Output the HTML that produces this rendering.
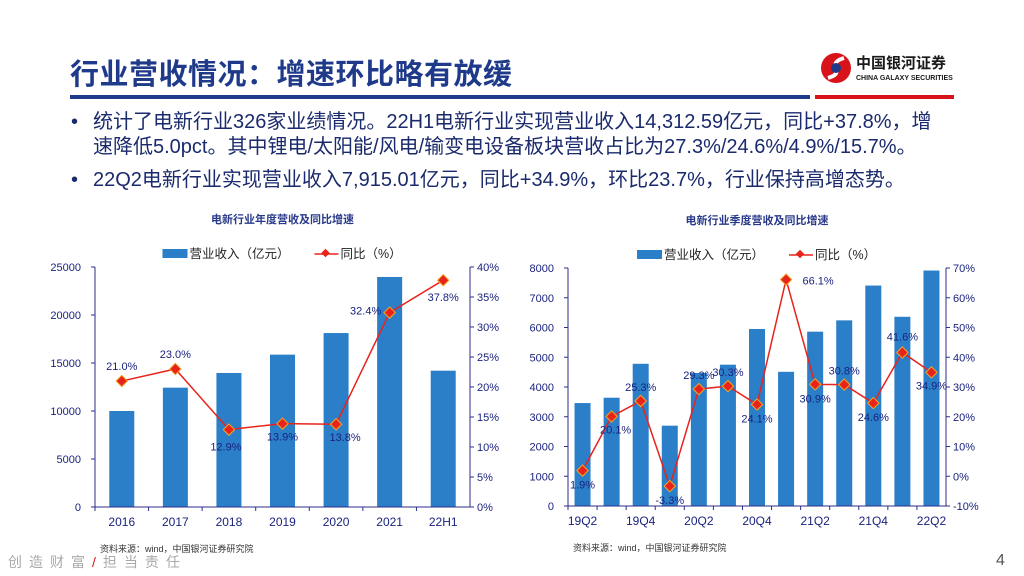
<!DOCTYPE html>
<html><head><meta charset="utf-8">
<style>
body{margin:0;width:1024px;height:576px;background:#fff;overflow:hidden;font-family:"Liberation Sans","Noto Sans CJK SC",sans-serif;position:relative}
.t{position:absolute;margin:0}
</style></head><body>
<div class="t" style="left:70px;top:51px;font-size:29px;font-weight:bold;color:#1f3a8a;letter-spacing:0.5px">行业营收情况：增速环比略有放缓</div>
<div class="t" style="left:818px;top:48px;width:140px;height:40px">
<svg width="140" height="40"><circle cx="18" cy="20" r="15" fill="#d7141a"/><path d="M10 30 C 30 24, 6 16, 26 10" stroke="#fff" stroke-width="4" fill="none"/><circle cx="18" cy="20" r="5" fill="#1f3a8a"/>
<text x="38" y="20" font-size="15" font-weight="bold" fill="#1a1a1a">中国银河证券</text>
<text x="38" y="32" font-size="7" font-weight="bold" fill="#1a1a1a">CHINA GALAXY SECURITIES</text></svg></div>
<div class="t" style="left:70px;top:95px;width:740px;height:4px;background:#1f3a8a"></div>
<div class="t" style="left:815px;top:95px;width:139px;height:4px;background:#d7141a"></div>
<div class="t" style="left:93px;top:110px;width:845px;font-size:20px;line-height:25px;color:#1a2a6c">
<span style="position:absolute;left:-22px">•</span>统计了电新行业326家业绩情况。22H1电新行业实现营业收入14,312.59亿元，同比+37.8%，增速降低5.0pct。其中锂电/太阳能/风电/输变电设备板块营收占比为27.3%/24.6%/4.9%/15.7%。</div>
<div class="t" style="left:93px;top:168px;width:880px;font-size:20px;line-height:25px;color:#1a2a6c">
<span style="position:absolute;left:-22px">•</span>22Q2电新行业实现营业收入7,915.01亿元，同比+34.9%，环比23.7%，行业保持高增态势。</div>
<svg id="c" width="1024" height="576" style="position:absolute;left:0;top:0"></svg>
<div class="t" style="left:8px;top:552px;font-size:14px;color:#aaa;letter-spacing:7px">创造财富<span style="color:#d7141a">/</span>担当责任</div>
<div class="t" style="left:996px;top:552px;font-size:16px;color:#555">4</div>
<script>
const yearCats=['2016','2017','2018','2019','2020','2021','22H1'];
const yearRev=[10000,12430,13960,15870,18120,23960,14200];
const yearYoy=[21.0,23.0,12.9,13.9,13.8,32.4,37.8];
const yearRevTicks=[0,5000,10000,15000,20000,25000];
const yearYoyTicks=[0,5,10,15,20,25,30,35,40];
const qCats=['19Q2','19Q3','19Q4','20Q1','20Q2','20Q3','20Q4','21Q1','21Q2','21Q3','21Q4','22Q1','22Q2'];
const qRev=[3460,3640,4780,2700,4470,4750,5950,4510,5860,6240,7410,6360,7915];
const qYoy=[1.9,20.1,25.3,-3.3,29.3,30.3,24.1,66.1,30.9,30.8,24.6,41.6,34.9];
const qRevTicks=[0,1000,2000,3000,4000,5000,6000,7000,8000];
const qYoyTicks=[-10,0,10,20,30,40,50,60,70];
const svg=document.getElementById('c');const NS='http://www.w3.org/2000/svg';
function mk(tag,a,txt){const e=document.createElementNS(NS,tag);for(const k in a)e.setAttribute(k,a[k]);if(txt!==undefined)e.textContent=txt;svg.appendChild(e);return e;}
const AX='#2e2e8a',TX='#1a237e';
function chart(o){
 const {x0,x1,y0,y1,cats,rev,yoy,rt,pt,rmax,pmin,pmax,bw,labelEvery,lblOff,title,name}=o;
 const cw=(x1-x0)/cats.length;
 const ys=v=>y1-(v/rmax)*(y1-y0);
 const yp=v=>y1-(v-pmin)/(pmax-pmin)*(y1-y0);
 const cx=i=>x0+cw*(i+0.5);
 let e=mk('text',{x:(x0+x1)/2,y:y0-44,'font-size':11,'font-weight':'bold','text-anchor':'middle',fill:'#2a3a8a'},title);
 
 const lx=(x0+x1)/2-120;
 e=mk('rect',{x:lx,y:y0-18,width:25,height:9,fill:'#2a7fc8'});
 mk('text',{x:lx+27,y:y0-9,'font-size':12.5,fill:'#222'},'营业收入（亿元）');
 e=mk('line',{x1:lx+152,x2:lx+176,y1:y0-13,y2:y0-13,stroke:'#e8231c','stroke-width':1.5});
 mk('rect',{x:lx+160,y:y0-17,width:6,height:6,fill:'#e8231c',transform:`rotate(45 ${lx+163} ${y0-14})`});
 mk('text',{x:lx+178,y:y0-9,'font-size':12.5,fill:'#222'},'同比（%）');
 rev.forEach((v,i)=>{e=mk('rect',{x:cx(i)-bw/2,y:ys(v),width:bw,height:y1-ys(v),fill:'#2a7fc8'});});
 mk('line',{x1:x0,x2:x0,y1:y0,y2:y1,stroke:AX});mk('line',{x1:x1,x2:x1,y1:y0,y2:y1,stroke:AX});
 mk('line',{x1:x0,x2:x1,y1:ys(0),y2:ys(0),stroke:AX});
 if(pmin<0)mk('line',{x1:x0,x2:x1,y1:y1,y2:y1,stroke:AX});
 rt.forEach(v=>{mk('line',{x1:x0-4,x2:x0,y1:ys(v),y2:ys(v),stroke:AX});mk('text',{x:x0-14,y:ys(v)+4,'font-size':11,'text-anchor':'end',fill:TX},v);});
 pt.forEach(v=>{mk('line',{x1:x1,x2:x1+4,y1:yp(v),y2:yp(v),stroke:AX});mk('text',{x:x1+7,y:yp(v)+4,'font-size':11,fill:TX},v+'%');});
 cats.forEach((c,i)=>{mk('line',{x1:x0+cw*i,x2:x0+cw*i,y1:y1,y2:y1+4,stroke:AX});if(i%labelEvery===0)mk('text',{x:cx(i),y:y1+19,'font-size':12,'text-anchor':'middle',fill:TX},c);});
 const pts=yoy.map((v,i)=>cx(i)+','+yp(v)).join(' ');
 e=mk('polyline',{points:pts,fill:'none',stroke:'#e8231c','stroke-width':1.5});
 yoy.forEach((v,i)=>{const X=cx(i),Y=yp(v);e=mk('rect',{x:X-4,y:Y-4,width:8,height:8,fill:'#e8231c',stroke:'#f5a623','stroke-width':1,transform:`rotate(45 ${X} ${Y})`});
  const off=lblOff[i];mk('text',{x:X+off[0],y:Y+off[1],'font-size':11,'text-anchor':'middle',fill:TX},v.toFixed(1)+'%');});
 e=mk('text',{x:x0+5,y:y1+45,'font-size':9,fill:'#333'},'资料来源：wind，中国银河证券研究院');
}
chart({x0:95,x1:470,y0:267,y1:507,cats:yearCats,rev:yearRev,yoy:yearYoy,rt:yearRevTicks,pt:yearYoyTicks,rmax:25000,pmin:0,pmax:40,bw:25,labelEvery:1,title:'电新行业年度营收及同比增速',name:'annual',
 lblOff:[[0,-11],[0,-11],[-3,21],[0,17],[9,17],[-24,2],[0,21]]});
chart({x0:568,x1:946,y0:268,y1:506,cats:qCats,rev:qRev,yoy:qYoy,rt:qRevTicks,pt:qYoyTicks,rmax:8000,pmin:-10,pmax:70,bw:16,labelEvery:2,title:'电新行业季度营收及同比增速',name:'quarterly',
 lblOff:[[0,18],[4,17],[0,-10],[0,18],[0,-10],[0,-10],[0,18],[32,5],[0,18],[0,-10],[0,18],[0,-12],[0,17]]});
</script>
</body></html>
